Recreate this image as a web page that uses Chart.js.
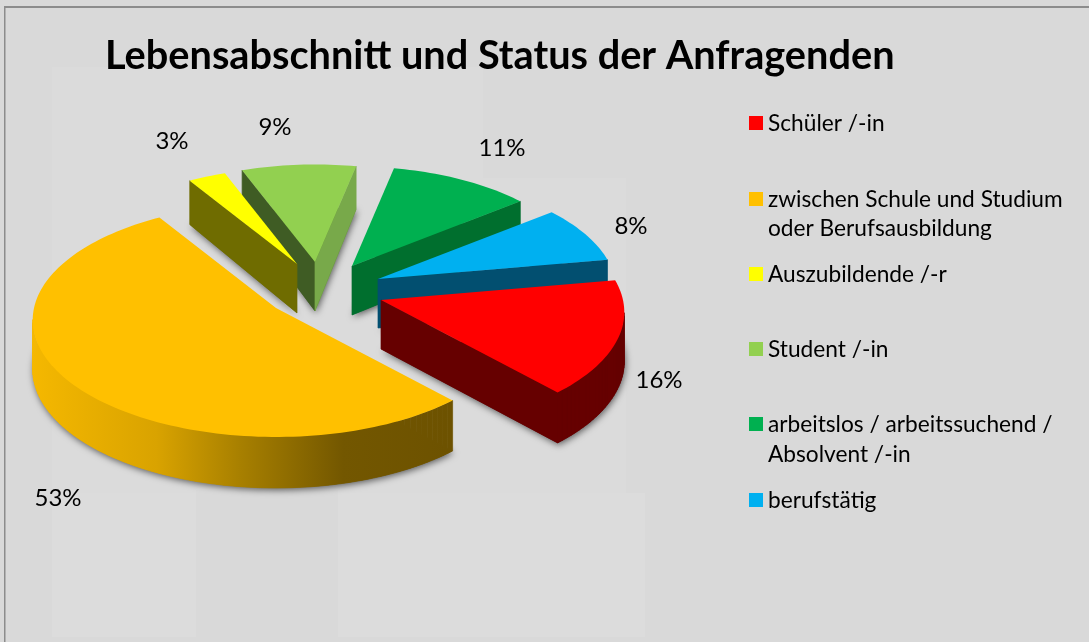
<!DOCTYPE html>
<html lang="de">
<head>
<meta charset="utf-8">
<style>
html,body{margin:0;padding:0;background:#d9d9d9;overflow:hidden}
#wrap{position:relative;width:1089px;height:642px}
canvas{display:block;position:absolute;left:0;top:0}
</style>
<script src="https://cdn.jsdelivr.net/npm/chart.js@4/dist/chart.umd.min.js"></script>
</head>
<body>
<div id="wrap"><canvas id="c" width="1089" height="642"></canvas></div>
<script>
const chartTitle = 'Lebensabschnitt und Status der Anfragenden';
const categories = ['Schüler /-in','zwischen Schule und Studium\noder Berufsausbildung','Auszubildende /-r','Student /-in','arbeitslos / arbeitssuchend /\nAbsolvent /-in','berufstätig'];
const shares = [16,53,3,9,11,8];
const topColors = ['#ff0000','#ffc000','#ffff00','#92d050','#00b050','#00b0f0'];
const sideColors = ['#660000','#6d5200','#6f6c00','#3f5c24','#006f2e','#024f70'];
const sideColorsRight = ['#660000','#6d5200','#6f6c00','#78a94a','#006f2e','#024f70'];

// layout of the drawing, not data
const FONT = 'Lato, Carlito, sans-serif';
const TILT = 0.478, PERSP = 0.103;
const apexes = [[381,300],[276,308],[297,264],[315,262],[352,266],[378,279]];
const sliceScale = [1,1,.92,.93,.95,.98];
const drawOrder = [4,5,0,3,2,1];
const labelCenters = [[659,380],[58,498],[172,141],[275,127],[502,148],[631,226]];
const legendRows = [[124],[200,229],[275],[350],[425,455],[501]];
const patches = [[52,67,144,426],[196,67,142,423],[338,67,145,427],[483,178,143,316]];
const lightPatches = [[52,493,144,144],[338,493,307,144]];

const pie3d = {
  id:'pie3d',
  beforeDraw(chart){
    const ctx = chart.ctx;
    ctx.save();
    ctx.fillStyle='#d9d9d9'; ctx.fillRect(0,0,1089,642);
    ctx.fillStyle='#dbdbdb';
    patches.forEach(p=>ctx.fillRect(p[0],p[1],p[2],p[3]));
    ctx.fillStyle='#dcdcdc';
    lightPatches.forEach(p=>ctx.fillRect(p[0],p[1],p[2],p[3]));
    ctx.fillStyle='#8c8c8c';
    ctx.fillRect(4,6,1085,2); ctx.fillRect(4,6,1.5,636);
    ctx.restore();
  },
  beforeDatasetsDraw(chart){
    const ctx = chart.ctx;
    const arcs = chart.getDatasetMeta(0).data;
    const grad = ctx.createLinearGradient(32,0,447,0);
    grad.addColorStop(0,'#f5b800'); grad.addColorStop(.3,'#d9a300');
    grad.addColorStop(.5,'#a88000'); grad.addColorStop(.75,'#735700'); grad.addColorStop(1,'#6d5200');

    const outline = i=>{
      const a = arcs[i], R = a.outerRadius, [ax,ay] = apexes[i], sc = sliceScale[i];
      const pt = (th,r)=>{
        const X=r*Math.cos(th), Y=r*Math.sin(th), d=1-PERSP*Y/R;
        const s=Y/R;
        return {x:ax+sc*X/d, y:ay+sc*TILT*Y/d, dz:s<0?49+6*s:49+2*s};
      };
      const pts=[pt(a.startAngle,0)];
      const n=Math.max(2,Math.ceil((a.endAngle-a.startAngle)/(Math.PI/120)));
      for(let k=0;k<=n;k++) pts.push(pt(a.startAngle+(a.endAngle-a.startAngle)*k/n,R));
      return pts;
    };
    const poly=(pts,dz)=>{
      ctx.beginPath();
      pts.forEach((p,j)=>{const y=p.y+(dz?p.dz:0); j?ctx.lineTo(p.x,y):ctx.moveTo(p.x,y);});
      ctx.closePath();
    };
    drawOrder.forEach(i=>{
      const pts = outline(i), side = i===1?grad:sideColors[i];
      ctx.save();
      ctx.shadowColor='rgba(0,0,0,0.6)'; ctx.shadowBlur=7; ctx.shadowOffsetX=1; ctx.shadowOffsetY=2;
      ctx.fillStyle=side;
      poly(pts,true); ctx.fill();
      ctx.restore();
      const m=pts.length;
      for(let j=0;j<m;j++){
        const p=pts[j], q=pts[(j+1)%m];
        if(q.x<p.x){
          let col=side;
          if(j===m-1) col=sideColorsRight[i];
          ctx.fillStyle=col; ctx.strokeStyle=col; ctx.lineWidth=.7;
          ctx.beginPath();
          ctx.moveTo(p.x,p.y); ctx.lineTo(q.x,q.y);
          ctx.lineTo(q.x,q.y+q.dz); ctx.lineTo(p.x,p.y+p.dz);
          ctx.closePath(); ctx.fill(); ctx.stroke();
        }
      }
      ctx.fillStyle=topColors[i];
      poly(pts,false); ctx.fill();
    });
    return false;
  },
  afterDraw(chart){
    const ctx = chart.ctx;
    ctx.save();
    ctx.fillStyle='#000';
    ctx.textBaseline='middle';
    ctx.textAlign='center';
    ctx.font='24px '+FONT;
    shares.forEach((v,i)=>ctx.fillText(v+'%',labelCenters[i][0],labelCenters[i][1]));
    ctx.textAlign='left';
    ctx.font='22.7px '+FONT;
    categories.forEach((c,i)=>{
      const lines=c.split('\n'), ys=legendRows[i];
      ctx.fillStyle=topColors[i];
      ctx.fillRect(749,ys[0]-8,14,14);
      ctx.fillStyle='#000';
      lines.forEach((l,k)=>ctx.fillText(l,768,ys[k]));
    });
    ctx.restore();
  }
};

Chart.defaults.font.family = FONT;
new Chart(document.getElementById('c'),{
  type:'pie',
  data:{labels:categories,datasets:[{data:shares,backgroundColor:topColors,borderWidth:0}]},
  options:{
    responsive:false,animation:false,events:[],
    rotation:80,radius:242,
    layout:{padding:{left:105,top:32}},
    plugins:{
      legend:{display:false},tooltip:{enabled:false},
      title:{display:true,text:chartTitle,align:'start',fullSize:false,color:'#000',font:{family:FONT,size:39.7,weight:'bold'},padding:0}
    }
  },
  plugins:[pie3d]
});
</script>
</body>
</html>
